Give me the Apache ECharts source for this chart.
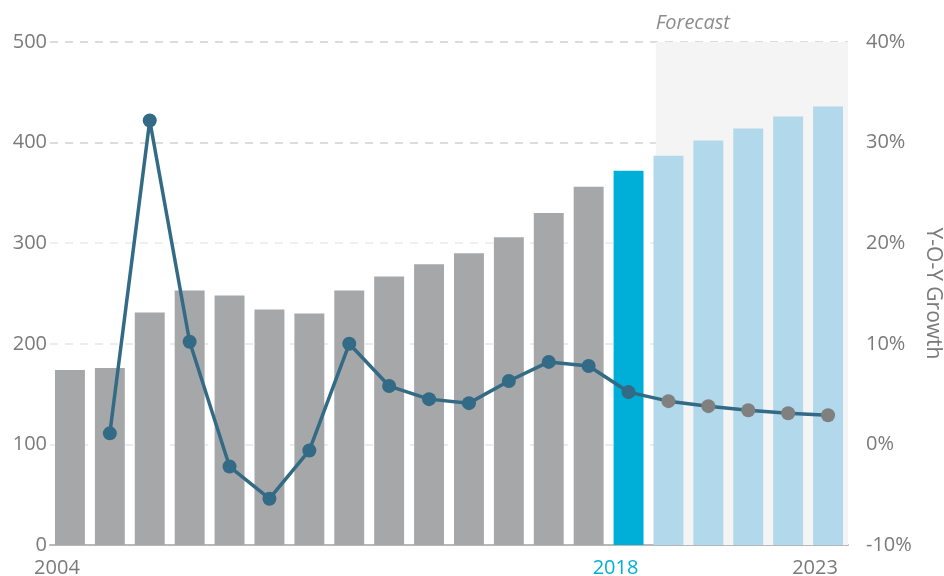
<!DOCTYPE html>
<html>
<head>
<meta charset="utf-8">
<script src="https://cdn.jsdelivr.net/npm/echarts@6/dist/echarts.min.js"></script>
<style>
html,body{margin:0;padding:0;background:#fff;}
#chart{width:944px;height:576px;}
</style>
</head>
<body>
<div id="chart"></div>
<script>
const years = ['2004','2005','2006','2007','2008','2009','2010','2011','2012','2013','2014','2015','2016','2017','2018','2019','2020','2021','2022','2023'];
const shownYears = ['2004','2018','2023'];
const actualYear = '2018';
const barValues = [174,176,231,253,248,234,230,253,267,279,290,306,330,356,372,387,402,414,426,436];
const growthValues = [null,1.1,32.2,10.2,-2.2,-5.4,-0.6,10.0,5.8,4.5,4.1,6.3,8.2,7.8,5.2,4.3,3.8,3.4,3.1,2.9];
const leftTicks = [0,100,200,300,400,500];
const rightTicks = [-10,0,10,20,30,40];

const FONT = '"Open Sans", "DejaVu Sans", sans-serif';
const TXT = '#7a7a7a';
const C_GRAY = '#a6a7a9', C_HL = '#00afd8', C_FC = '#b2d8eb';
const C_LINE = '#336a85', C_FC_MARK = '#808080';
const actualIdx = years.indexOf(actualYear);

const barData = barValues.map((v, i) => ({
  value: v,
  itemStyle: { color: i < actualIdx ? C_GRAY : (i === actualIdx ? C_HL : C_FC) }
}));
const lineData = growthValues.map((v, i) => ({
  value: v,
  itemStyle: { color: i > actualIdx ? C_FC_MARK : C_LINE }
}));

const chart = echarts.init(document.getElementById('chart'), null, {renderer: 'canvas'});
chart.setOption({
  animation: false,
  backgroundColor: '#fff',
  grid: { left: 50, right: 96, top: 42, bottom: 31, containLabel: false, outerBoundsMode: 'none' },
  xAxis: [{
    type: 'category',
    data: years,
    axisLine: { show: true, lineStyle: { color: '#b8b8b8', width: 2 } },
    axisTick: { show: false },
    axisLabel: {
      interval: 0,
      margin: 13,
      fontFamily: FONT,
      fontSize: 20,
      color: TXT,
      padding: [0, 26, 0, 0],
      formatter: function (v) {
        if (shownYears.indexOf(v) < 0) return '';
        return v === actualYear ? '{hl|' + v + '}' : v;
      },
      rich: { hl: { color: C_HL, fontFamily: FONT, fontSize: 20 } }
    },
    splitLine: { show: false }
  }, {
    type: 'value', show: false, min: -0.5, max: 19.5
  }],
  yAxis: [{
    type: 'value', min: leftTicks[0], max: leftTicks[leftTicks.length - 1], interval: 100,
    position: 'left',
    axisLine: { show: false }, axisTick: { show: false },
    axisLabel: { fontFamily: FONT, fontSize: 20, color: TXT, margin: 3 },
    splitLine: { show: true, lineStyle: { type: [8, 7], width: 2,
      color: ['#ffffff', '#ececec', '#ececec', '#efefef', '#dcdcdc', '#dcdcdc'] } }
  }, {
    type: 'value', min: rightTicks[0], max: rightTicks[rightTicks.length - 1], interval: 10,
    position: 'right',
    name: 'Y-O-Y Growth', nameLocation: 'middle', nameRotate: -90, nameGap: 74,
    nameTextStyle: { fontFamily: FONT, fontSize: 21, color: TXT },
    axisLine: { show: false }, axisTick: { show: false },
    axisLabel: { fontFamily: FONT, fontSize: 20, color: TXT, margin: 18, formatter: '{value}%' },
    splitLine: { show: false }
  }],
  series: [{
    type: 'line', xAxisIndex: 1, yAxisIndex: 0, data: [], z: -1, silent: true,
    markArea: {
      silent: true,
      itemStyle: { color: '#f4f4f4' },
      label: { show: true, position: [0, -29], fontFamily: FONT, fontSize: 20,
        fontStyle: 'italic', color: '#8c8c8c' },
      data: [[{ name: 'Forecast', xAxis: 14.68, yAxis: 500 }, { xAxis: 19.55, yAxis: 0 }]]
    }
  }, {
    type: 'bar', xAxisIndex: 0, yAxisIndex: 0, data: barData,
    barCategoryGap: '25%'
  }, {
    type: 'line', xAxisIndex: 0, yAxisIndex: 1, data: lineData,
    connectNulls: false,
    symbol: 'circle', symbolSize: 14,
    lineStyle: { color: C_LINE, width: 3.5 },
    z: 5
  }]
});
</script>
</body>
</html>
